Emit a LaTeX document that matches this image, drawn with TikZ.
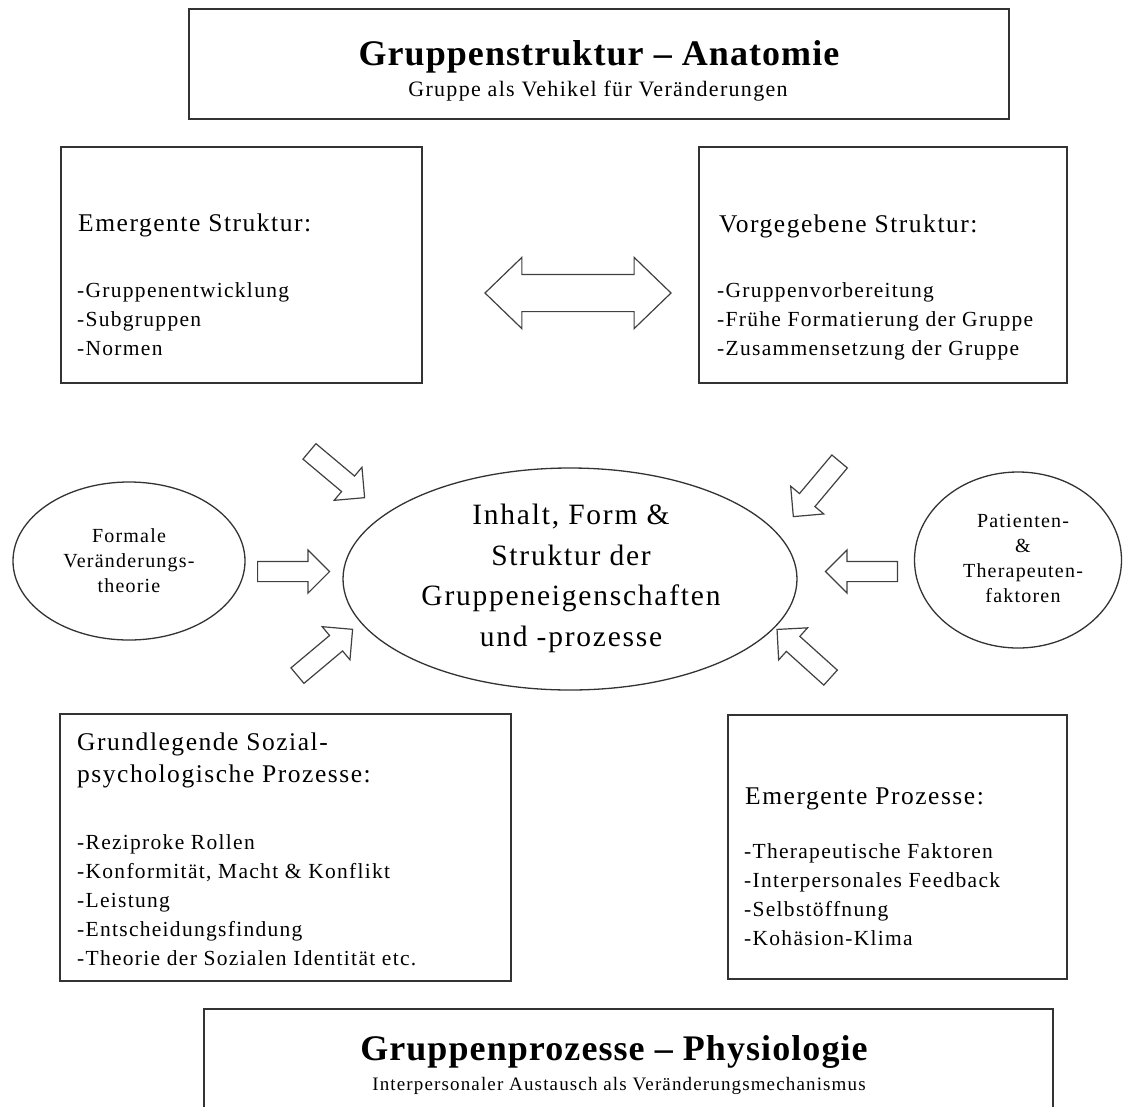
\documentclass[tikz,border=0pt]{standalone}
\usepackage{fontspec}
\setmainfont{Liberation Serif}[LetterSpace=6]
\newfontfamily\headfont{Liberation Serif}[LetterSpace=3]
\usetikzlibrary{shapes.geometric,shapes.arrows}

\begin{document}
\begin{tikzpicture}[x=1pt,y=-1pt,
  frame/.style={draw=black!80, line width=1.8pt, inner sep=0pt, anchor=north west},
  oval/.style={ellipse, draw=black!80, line width=1.3pt, inner sep=0pt},
  blockarrow/.style={single arrow, draw=black!75, line width=1.2pt, fill=white,
    inner xsep=0pt, inner ysep=9.5pt, single arrow head extend=11.5pt,
    single arrow tip angle=90, minimum height=72pt, anchor=tail},
  title/.style={inner sep=0pt, anchor=base, font=\headfont\bfseries\fontsize{36}{40}\selectfont},
  subtitle/.style={inner sep=0pt, anchor=base, font=\fontsize{22}{25}\selectfont},
  heading/.style={inner sep=0pt, anchor=base west, align=left, font=\fontsize{25.5}{32}\selectfont},
  items/.style={inner sep=0pt, anchor=base west, align=left, font=\fontsize{21.5}{29}\selectfont},
  ovaltext/.style={inner sep=0pt, anchor=base, align=center, font=\fontsize{20}{25}\selectfont},
  coretext/.style={inner sep=0pt, anchor=base, align=center, font=\fontsize{29.5}{40.5}\selectfont}]

\clip (0,0) rectangle (1124,1106);
\fill[white] (0,0) rectangle (1124,1106);

% header: anatomy (multi-line texts are placed by the baseline of their last line)
\node[frame, minimum width=820pt, minimum height=110pt] (anat) at (188,8) {};
\node[title] (anat-t) at (599,65) {Gruppenstruktur – Anatomie};
\node[subtitle] (anat-s) at (598,96) {Gruppe als Vehikel für Veränderungen};

% structure boxes
\node[frame, minimum width=361pt, minimum height=236pt] (emstr) at (60,146) {};
\node[heading] (emstr-h) at (78,231) {Emergente Struktur:};
\node[items] (emstr-b) at (77,355) {-Gruppenentwicklung\\-Subgruppen\\-Normen};

\node[frame, minimum width=368pt, minimum height=236pt] (vgstr) at (698,146) {};
\node[heading] (vgstr-h) at (719,232) {Vorgegebene Struktur:};
\node[items] (vgstr-b) at (717,355) {-Gruppenvorbereitung\\-Frühe Formatierung der Gruppe\\-Zusammensetzung der Gruppe};

% exchange between both structures
\node[double arrow, draw=black!75, line width=1.2pt, fill=white, inner xsep=0pt,
  inner ysep=18pt, double arrow head extend=17pt, double arrow tip angle=88,
  minimum height=186pt] (swap) at (578,293) {};

% core
\node[oval, minimum width=454pt, minimum height=222pt] (core) at (570,579) {};
\node[coretext] (core-t) at (571,646) {Inhalt, Form \&\\Struktur der\\Gruppeneigenschaften\\und -prozesse};

\node[oval, minimum width=232pt, minimum height=158pt] (formal) at (129,561) {};
\node[ovaltext] (formal-t) at (129,592) {Formale\\Veränderungs-\\theorie};

\node[oval, minimum width=207pt, minimum height=176pt] (pat) at (1018,560) {};
\node[ovaltext] (pat-t) at (1023,602) {Patienten-\\\&\\Therapeuten-\\faktoren};

% inputs into the core
\node[blockarrow, rotate=-40] (in-ul) at (309,451) {};
\node[blockarrow, rotate=0] (in-l) at (257,571.5) {};
\node[blockarrow, rotate=40] (in-ll) at (297,676) {};
\node[blockarrow, rotate=-130] (in-ur) at (840,461) {};
\node[blockarrow, rotate=180] (in-r) at (898,571.5) {};
\node[blockarrow, rotate=138] (in-lr) at (831,678) {};

% process boxes
\node[frame, minimum width=451pt, minimum height=267pt] (sozial) at (59,713) {};
\node[heading] (sozial-h) at (77,782) {Grundlegende Sozial-\\psychologische Prozesse:};
\node[items] (sozial-b) at (77,965) {-Reziproke Rollen\\-Konformität, Macht \& Konflikt\\-Leistung\\-Entscheidungsfindung\\-Theorie der Sozialen Identität etc.};

\node[frame, minimum width=339pt, minimum height=264pt] (emproz) at (727,714) {};
\node[heading] (emproz-h) at (745,804) {Emergente Prozesse:};
\node[items] (emproz-b) at (744,945) {-Therapeutische Faktoren\\-Interpersonales Feedback\\-Selbstöffnung\\-Kohäsion-Klima};

% footer: physiology
\node[frame, minimum width=849pt, minimum height=130pt] (phys) at (203,1008) {};
\node[title] (phys-t) at (614,1060) {Gruppenprozesse – Physiologie};
\node[subtitle, font=\fontsize{19}{23}\selectfont] (phys-s) at (619,1090) {Interpersonaler Austausch als Veränderungsmechanismus};

\end{tikzpicture}
\end{document}
